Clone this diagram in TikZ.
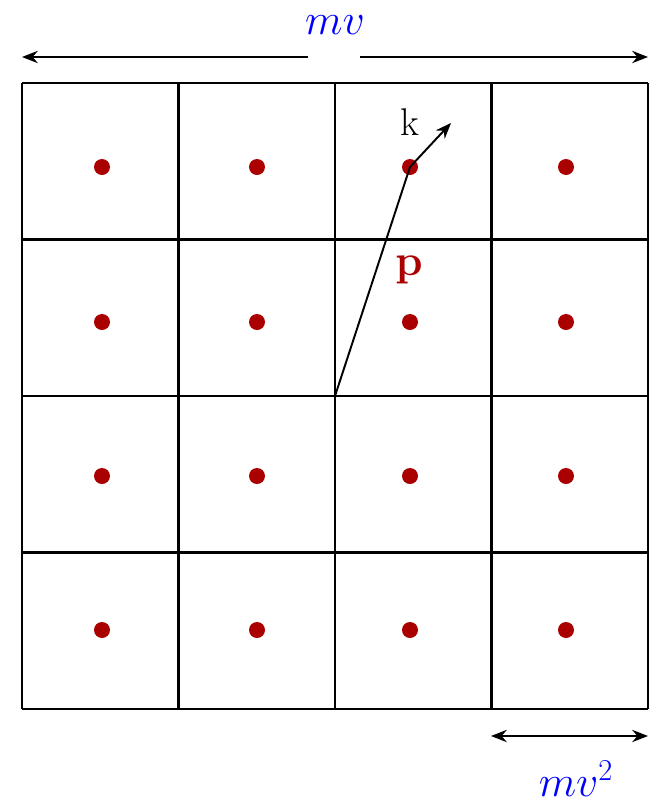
\documentclass[tikz,border=0pt]{standalone}
\usetikzlibrary{arrows.meta}
\definecolor{dotred}{RGB}{170,0,0}
\definecolor{lblue}{RGB}{0,0,255}
\tikzset{
  gridline/.style={line width=1.2pt,black},
  dotstyle/.style={circle,fill=dotred,inner sep=0pt,minimum size=0.32cm},
  arr/.style={line width=1.1pt,-{Stealth[length=9pt,width=7pt]}},
  bluelbl/.style={text=lblue,font=\fontsize{27}{30}\selectfont},
}
\begin{document}
\begin{tikzpicture}[x=0.02cm,y=-0.02cm]
\useasboundingbox (0,0) rectangle (649,802);
% grid
\foreach \i in {0,...,4}{
  \draw[gridline] ({22+156.5*\i},83) -- ({22+156.5*\i},709);
  \draw[gridline] (22,{83+156.5*\i}) -- (648,{83+156.5*\i});
}
% dots
\foreach \x [count=\a] in {102,257,410,566}{
  \foreach \y [count=\b] in {167,322,476,630}{
    \node[dotstyle] (d\a\b) at (\x,\y) {};
  }
}
% vectors
\coordinate (o) at (335,396);
\coordinate (kt) at (451,123);
\draw[line width=1.1pt] (o) -- (d31.center);
\draw[arr] (d31.center) -- (kt);
\node[font=\fontsize{22}{26}\selectfont] (k) at (410,122) {k};
\node[text=dotred,font=\fontsize{27}{30}\selectfont] (p) at (409,270) {$\mathbf{p}$};
% top arrow
\coordinate (tl) at (22,57);
\coordinate (tr) at (648,57);
\node[bluelbl] (mv) at (335,25) {$mv$};
\draw[arr] (308,57) -- (tl);
\draw[arr] (360,57) -- (tr);
% bottom arrow
\coordinate (bl) at (491,736);
\coordinate (br) at (648,736);
\draw[line width=1.1pt,{Stealth[length=9pt,width=7pt]}-{Stealth[length=9pt,width=7pt]}] (bl) -- (br);
\node[bluelbl] (mv2) at (576,779) {$mv^2$};
\end{tikzpicture}
\end{document}
